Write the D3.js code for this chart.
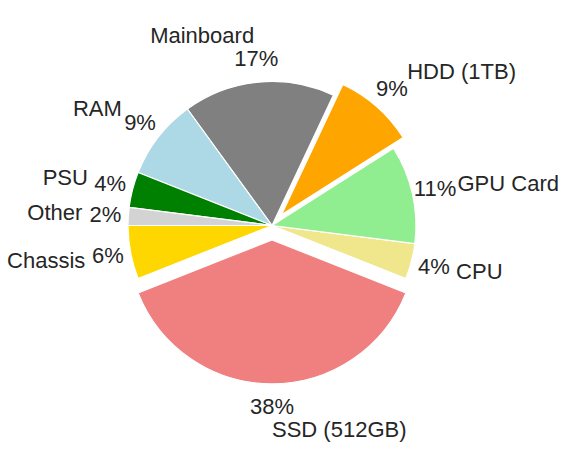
<!DOCTYPE html>
<html>
<head>
<meta charset="utf-8">
<script src="https://cdn.jsdelivr.net/npm/d3@7"></script>
<style>
  body { margin: 0; background: #fff; }
  text { font-family: "Liberation Sans", Arial, sans-serif; font-size: 22px; fill: #262626; }
</style>
</head>
<body>
<div id="pie"></div>
<script>
// parts of the build, counter-clockwise from the right side
const categories = ['CPU', 'GPU Card', 'HDD (1TB)', 'Mainboard', 'RAM', 'PSU', 'Other', 'Chassis', 'SSD (512GB)'];
const shares = [4, 11, 9, 17, 9, 4, 2, 6, 38];
const explode = [0, 0, 0.1, 0, 0, 0, 0, 0, 0.1];
const colors = ['#f0e68c', '#90ee90', '#ffa500', '#808080', '#add8e6', '#008000', '#d3d3d3', '#ffd700', '#f08080'];

const width = 566;
const height = 456;
const center = { x: 272, y: 225.5 };
const radius = 144;
const startDeg = -21.6; // degrees ccw from east, like matplotlib
const labelDistance = 1.32;
const pctDistance = 1.16;

// distance in units of radius -> pixels
const rScale = d3.scaleLinear().domain([0, 1]).range([0, radius]);

const data = categories.map((c, i) => ({ name: c, value: shares[i], explode: explode[i], color: colors[i] }));
const total = d3.sum(data, d => d.value);

const start = (90 - startDeg) * Math.PI / 180;
const pie = d3
  .pie()
  .sort(null)
  .value(d => d.value)
  .startAngle(start)
  .endAngle(start - 2 * Math.PI);

const arc = d3.arc().innerRadius(0).outerRadius(rScale(1));

const svg = d3
  .select('#pie')
  .append('svg')
  .attr('width', width)
  .attr('height', height)
  .append('g')
  .attr('transform', `translate(${center.x},${center.y})`);

const arcs = pie(data);
const mid = d => (d.startAngle + d.endAngle) / 2;
const point = (d, dist) => {
  const a = mid(d);
  const off = rScale(d.data.explode);
  return [Math.sin(a) * (off + rScale(dist)), -Math.cos(a) * (off + rScale(dist))];
};

const slice = svg
  .selectAll('.slice')
  .data(arcs)
  .enter()
  .append('g')
  .attr('class', 'slice');

slice
  .append('path')
  .attr('transform', d => `translate(${point(d, 0)})`)
  .attr('d', arc)
  .style('fill', d => d.data.color)
  .style('stroke', '#fff')
  .style('stroke-width', '1.2px');

// category names
slice
  .append('text')
  .attr('x', d => point(d, labelDistance)[0])
  .attr('y', d => point(d, labelDistance)[1])
  .attr('dy', '0.3em')
  .attr('text-anchor', d => (Math.sin(mid(d)) > -1e-9 ? 'start' : 'end'))
  .text(d => d.data.name);

// percentages
slice
  .append('text')
  .attr('x', d => point(d, pctDistance)[0])
  .attr('y', d => point(d, pctDistance)[1])
  .attr('dy', '0.3em')
  .attr('text-anchor', 'middle')
  .text(d => `${Math.round(d.value / total * 100)}%`);
</script>
</body>
</html>
